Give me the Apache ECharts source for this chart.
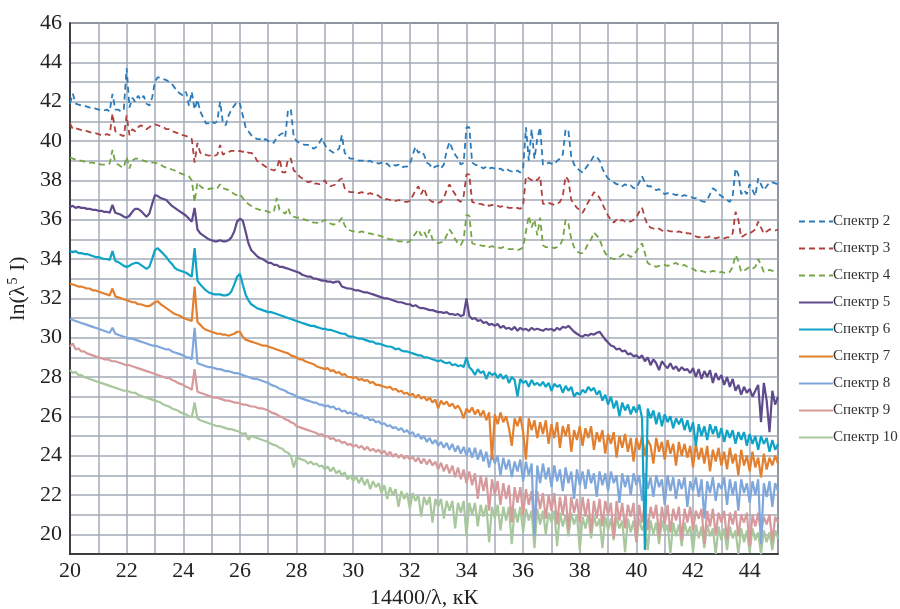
<!DOCTYPE html>
<html lang="ru">
<head>
    <meta charset="utf-8">
    <script src="https://cdn.jsdelivr.net/npm/echarts@6.0.0/dist/echarts.min.js"></script>
    <style>
        html, body { margin: 0; padding: 0; background: #fff; }
        #chart { width: 900px; height: 609px; }
    </style>
</head>
<body>
<div id="chart"></div>
<script type="text/javascript">

// sampling of the spectra: 20.0 .. 45.0 step 0.1
var X_START = 20, X_STEP = 0.1;

var names = ['Спектр 2', 'Спектр 3', 'Спектр 4', 'Спектр 5', 'Спектр 6', 'Спектр 7', 'Спектр 8', 'Спектр 9', 'Спектр 10'];
var colors = ['#2b7bba', '#b0413e', '#76a548', '#5f4b8b', '#0fa3c7', '#e3802f', '#7fa7dc', '#d79a9c', '#a8c79c'];
var dashed = [true, true, true, false, false, false, false, false, false];

var s2 = [
41.9,42.4,41.9,41.85,41.8,41.8,41.75,41.7,41.7,41.65,
41.6,41.6,41.55,41.6,41.5,42.4,41.6,41.6,41.5,41.6,
43.7,41.7,42.2,42.0,42.3,42.1,42.3,41.9,41.8,42.2,
43.0,43.25,43.2,43.15,43.1,43.0,42.9,42.7,42.5,42.4,
42.3,42.5,41.8,42.5,41.6,42.1,41.5,41.2,40.9,40.9,
41.0,40.9,41.0,42.0,40.9,40.8,41.3,41.6,41.8,42.0,
41.9,41.3,40.7,40.5,40.3,40.2,40.1,40.1,40.0,40.1,
40.0,40.0,39.9,40.2,40.3,40.4,40.2,41.6,41.6,40.2,
40.0,39.9,39.85,39.8,39.8,39.75,39.6,39.7,39.9,40.15,
39.8,39.6,39.5,39.4,39.5,39.6,40.3,39.4,39.2,39.1,
39.1,39.05,39.0,39.0,39.0,38.95,39.0,38.9,38.9,38.85,
38.9,38.8,38.85,38.7,38.8,38.75,38.8,38.65,38.7,38.7,
38.8,39.3,39.7,39.4,39.5,39.3,38.9,38.8,38.6,38.7,
38.75,38.6,38.8,39.5,39.95,39.6,39.3,39.1,38.8,38.9,
40.7,40.7,38.9,38.8,38.75,38.7,38.6,38.7,38.6,38.65,
38.6,38.55,38.6,38.5,38.6,38.5,38.45,38.4,38.5,38.4,
38.6,40.7,39.0,40.6,39.1,40.1,40.7,38.8,38.8,38.9,
38.85,38.8,39.0,39.1,39.3,40.6,40.5,39.2,38.8,38.6,
38.5,38.4,38.6,38.8,39.0,39.25,39.2,39.0,38.6,38.3,
38.1,38.0,37.9,37.8,37.8,37.7,37.8,37.7,37.75,37.6,
37.6,37.9,38.2,37.9,37.7,37.7,37.6,37.5,37.55,37.4,
37.3,37.35,37.3,37.3,37.25,37.3,37.2,37.25,37.2,37.2,
37.1,37.1,37.0,36.95,36.9,37.0,37.3,37.6,37.5,37.3,
37.2,37.1,37.0,36.9,37.2,38.6,38.3,37.3,37.5,37.3,
37.8,37.5,37.2,38.1,37.8,37.5,37.7,37.9,37.9,37.85,
37.8
];

var s3 = [
40.9,40.6,40.65,40.6,40.55,40.5,40.5,40.45,40.4,40.4,
40.35,40.3,40.3,40.35,40.3,41.4,40.5,40.4,40.3,40.25,
41.3,40.3,40.6,40.5,40.7,40.8,40.7,40.6,40.7,40.8,
40.85,40.8,40.75,40.7,40.6,40.6,40.5,40.45,40.4,40.3,
40.3,40.25,40.2,40.1,38.9,39.9,39.4,39.3,39.3,39.25,
39.3,39.25,39.3,39.8,39.3,39.4,39.45,39.5,39.5,39.45,
39.5,39.45,39.5,39.4,39.4,39.3,39.0,38.9,38.8,38.7,
38.6,38.55,38.5,38.6,39.1,38.4,38.4,39.1,39.1,38.5,
38.4,38.2,38.1,38.0,37.9,37.95,37.8,37.85,37.8,37.9,
38.0,37.75,37.7,37.75,37.8,38.0,38.1,37.6,37.45,37.4,
37.4,37.4,37.35,37.4,37.35,37.3,37.35,37.3,37.3,37.2,
37.1,37.0,37.05,37.0,37.0,36.95,37.0,36.95,36.9,36.9,
36.95,37.2,37.5,37.7,37.3,37.6,37.2,37.0,36.9,36.9,
36.85,36.9,37.1,37.5,37.8,37.5,37.3,37.0,36.9,37.2,
38.3,38.3,36.9,36.85,36.8,36.8,36.75,36.8,36.7,36.75,
36.7,36.7,36.65,36.7,36.65,36.6,36.6,36.55,36.6,36.55,
36.7,38.2,38.1,38.0,38.1,38.0,38.2,36.8,36.8,36.85,
36.8,36.75,36.8,36.9,37.2,38.2,38.0,37.0,36.8,36.6,
36.5,36.35,36.6,36.9,37.1,37.4,37.3,37.1,36.8,36.5,
36.2,36.0,35.85,36.0,35.9,36.0,35.9,35.95,35.9,36.0,
36.1,36.4,36.6,36.1,35.7,35.6,35.55,35.5,35.55,35.45,
35.4,35.45,35.4,35.4,35.35,35.4,35.35,35.4,35.3,35.3,
35.2,35.15,35.1,35.15,35.1,35.1,35.15,35.1,35.05,35.1,
35.1,35.05,35.1,35.1,35.3,36.4,36.0,35.1,35.2,35.3,
35.3,35.4,35.5,35.9,35.6,35.3,35.4,35.5,35.5,35.45,
35.5
];

var s4 = [
39.15,39.1,39.05,39.0,39.0,38.95,38.95,38.9,38.9,38.85,
38.85,38.8,38.8,38.8,38.85,39.55,38.9,38.8,38.7,38.65,
39.2,38.6,39.0,39.1,39.1,39.05,39.0,38.95,38.9,38.9,
38.9,38.85,38.8,38.7,38.65,38.6,38.55,38.5,38.4,38.35,
38.3,38.25,38.2,38.0,36.9,37.9,37.7,37.6,37.6,37.55,
37.6,37.55,37.6,37.8,37.6,37.55,37.5,37.4,37.3,37.25,
37.3,37.1,36.9,36.8,36.7,36.6,36.55,36.5,36.5,36.45,
36.4,36.35,36.4,37.1,36.5,36.4,36.3,36.6,36.2,36.15,
36.1,36.1,36.05,36.0,35.95,35.9,35.85,35.85,35.8,35.9,
36.0,35.9,35.8,35.75,35.8,35.9,36.1,35.7,35.5,35.45,
35.4,35.4,35.35,35.4,35.35,35.3,35.3,35.25,35.2,35.2,
35.15,35.1,35.05,35.0,35.0,34.95,34.9,34.9,34.85,34.85,
34.9,35.1,35.3,35.5,35.2,35.4,35.1,35.5,35.0,34.9,
34.8,34.85,34.9,35.2,35.5,35.3,35.0,34.8,34.7,35.0,
36.25,36.2,34.8,34.75,34.7,34.7,34.65,34.7,34.6,34.65,
34.6,34.6,34.55,34.6,34.55,34.5,34.5,34.5,34.45,34.5,
34.6,35.4,36.2,35.6,36.0,35.2,36.1,34.7,34.6,34.6,
34.6,34.55,34.6,34.7,35.0,36.0,35.8,35.0,34.6,34.4,
34.3,34.3,34.5,34.8,35.0,35.35,35.2,35.0,34.6,34.3,
34.1,34.05,34.0,34.0,34.1,34.2,34.3,34.2,34.1,34.2,
34.4,34.6,34.8,34.3,33.8,33.7,33.65,33.6,33.65,33.7,
33.7,33.65,33.7,33.75,33.8,33.7,33.65,33.7,33.6,33.55,
33.5,33.4,33.35,33.4,33.35,33.3,33.35,33.4,33.35,33.3,
33.35,33.3,33.3,33.35,33.6,34.2,33.9,33.35,33.4,33.5,
33.6,33.5,33.6,34.0,33.7,33.35,33.4,33.45,33.4,33.4,
33.45
];

var s5 = [
36.65,36.7,36.6,36.65,36.6,36.6,36.55,36.55,36.5,36.5,
36.45,36.45,36.4,36.4,36.35,36.75,36.35,36.3,36.25,36.15,
36.1,36.2,36.4,36.55,36.55,36.45,36.3,36.15,36.3,36.8,
37.25,37.2,37.1,37.05,37.0,36.85,36.7,36.6,36.5,36.4,
36.3,36.2,36.05,35.9,36.6,35.5,35.3,35.2,35.1,35.0,
34.95,34.9,34.9,34.95,34.9,34.9,34.95,35.1,35.4,35.9,
36.05,35.95,35.4,34.8,34.45,34.3,34.15,34.05,34.0,33.9,
33.8,33.8,33.7,33.7,33.6,33.6,33.55,33.5,33.45,33.4,
33.35,33.3,33.2,33.15,33.1,33.1,33.0,33.0,32.95,32.9,
32.9,32.85,32.85,32.8,32.85,32.85,32.6,32.55,32.5,32.5,
32.45,32.4,32.4,32.35,32.3,32.3,32.25,32.2,32.15,32.1,
32.05,32.0,32.0,31.95,31.9,31.85,31.8,31.8,31.75,31.7,
31.7,31.6,31.65,31.55,31.5,31.5,31.45,31.4,31.4,31.35,
31.3,31.3,31.25,31.3,31.2,31.2,31.15,31.2,31.1,31.15,
32.0,31.1,30.95,31.0,30.85,30.9,30.75,30.8,30.65,30.7,
30.6,30.7,30.5,30.6,30.45,30.5,30.4,30.55,30.35,30.5,
30.4,30.45,30.35,30.5,30.4,30.45,30.4,30.35,30.45,30.4,
30.45,30.35,30.5,30.4,30.55,30.5,30.6,30.45,30.3,30.2,
30.1,30.05,30.15,30.1,30.2,30.15,30.25,30.3,30.1,29.9,
29.75,29.6,29.55,29.4,29.45,29.3,29.35,29.15,29.2,29.05,
29.1,28.95,29.1,28.8,29.0,28.6,28.9,28.7,28.35,28.8,
28.6,28.45,28.7,28.4,28.55,28.3,28.5,28.35,28.4,28.2,
28.45,28.0,28.4,27.9,28.3,28.0,28.35,27.7,28.2,27.85,
28.1,27.6,28.0,27.5,27.9,27.3,27.6,27.1,27.5,27.2,
27.4,27.0,27.3,27.6,25.7,27.7,26.8,25.2,27.3,26.6,
27.0
];

var s6 = [
34.4,34.35,34.4,34.3,34.3,34.25,34.25,34.2,34.15,34.1,
34.1,34.05,34.0,34.0,33.95,34.4,33.9,33.85,33.75,33.65,
33.6,33.65,33.75,33.8,33.8,33.7,33.6,33.5,33.6,34.0,
34.45,34.55,34.4,34.25,34.1,33.9,33.75,33.55,33.45,33.4,
33.35,33.3,33.2,33.1,34.55,32.9,32.7,32.55,32.4,32.3,
32.25,32.2,32.2,32.2,32.15,32.15,32.2,32.35,32.7,33.1,
33.25,32.7,32.2,31.9,31.7,31.6,31.5,31.45,31.4,31.35,
31.3,31.3,31.25,31.2,31.15,31.1,31.05,31.0,30.95,30.9,
30.85,30.8,30.75,30.7,30.65,30.6,30.6,30.55,30.5,30.45,
30.45,30.4,30.4,30.35,30.3,30.25,30.2,30.2,30.1,30.05,
30.05,30.0,29.95,29.95,29.9,29.85,29.8,29.8,29.7,29.7,
29.65,29.6,29.55,29.55,29.5,29.4,29.45,29.35,29.3,29.3,
29.25,29.2,29.15,29.1,29.1,29.0,29.0,28.95,28.9,28.85,
28.8,28.85,28.75,28.7,28.75,28.6,28.65,28.55,28.6,28.5,
29.0,28.5,28.35,28.1,28.4,28.2,28.3,27.9,28.25,28.1,
28.2,27.95,28.15,27.9,28.1,27.7,28.0,27.85,27.0,27.9,
27.7,27.8,27.5,27.85,27.6,27.7,27.55,27.75,27.5,27.7,
27.3,27.65,27.5,27.6,27.2,27.55,27.3,27.5,27.0,27.2,
27.1,27.35,27.2,27.5,27.3,27.45,27.1,27.3,26.8,27.1,
26.6,27.0,26.4,26.8,26.0,26.7,26.3,26.6,26.1,26.5,
26.2,26.6,25.9,19.2,26.4,25.9,26.3,25.6,26.2,25.5,
26.1,25.7,26.0,25.4,25.9,25.6,25.9,25.3,25.8,25.2,
25.7,24.5,25.6,25.0,25.5,24.8,25.6,25.1,25.5,24.9,
25.4,24.7,25.3,24.9,25.3,24.6,25.2,24.8,25.2,24.5,
25.1,24.6,25.0,24.3,25.0,24.6,24.9,24.2,24.8,24.3,
24.6
];

var s7 = [
32.75,32.7,32.65,32.6,32.6,32.55,32.5,32.5,32.4,32.4,
32.35,32.3,32.25,32.2,32.15,32.5,32.1,32.05,32.0,31.95,
31.9,31.85,31.8,31.8,31.7,31.7,31.65,31.6,31.6,31.7,
31.8,31.85,31.7,31.6,31.5,31.4,31.3,31.2,31.15,31.1,
31.0,30.95,30.9,30.85,32.6,30.8,30.65,30.5,30.4,30.35,
30.3,30.25,30.2,30.2,30.15,30.15,30.1,30.15,30.2,30.3,
30.3,30.05,29.9,29.85,29.8,29.75,29.7,29.65,29.6,29.6,
29.55,29.5,29.45,29.4,29.35,29.3,29.25,29.2,29.1,29.05,
29.0,28.9,28.9,28.8,28.75,28.7,28.65,28.55,28.5,28.45,
28.4,28.45,28.3,28.35,28.2,28.25,28.1,28.15,28.0,28.0,
27.95,28.0,27.85,27.9,27.8,27.85,27.7,27.75,27.6,27.6,
27.55,27.5,27.45,27.5,27.35,27.4,27.25,27.3,27.15,27.2,
27.05,27.15,26.95,27.1,26.9,27.0,26.8,26.95,26.7,26.85,
26.4,26.8,26.6,26.75,26.5,26.65,26.4,26.55,26.3,25.9,
26.4,26.2,26.45,26.1,26.35,26.0,26.3,25.8,26.2,23.8,
26.1,25.6,26.2,25.7,26.0,25.4,24.5,25.9,25.5,26.0,
25.2,23.8,25.9,25.3,25.8,24.9,25.7,25.1,25.8,24.6,
25.6,24.9,25.7,24.4,25.5,25.0,25.6,24.2,25.3,24.8,
25.5,24.5,25.4,24.9,25.5,24.3,25.2,24.7,25.3,24.1,
25.1,24.6,25.2,23.9,25.0,24.4,25.1,24.2,24.9,23.7,
24.9,24.3,25.0,24.0,24.8,24.5,23.6,24.9,24.2,24.7,
23.8,24.8,24.1,24.6,23.5,24.7,24.0,24.6,23.9,24.5,
23.4,24.6,23.8,24.4,23.6,24.5,23.2,24.3,23.7,24.4,
23.5,24.2,23.3,24.4,23.6,24.1,23.0,24.3,23.5,24.0,
23.2,24.2,23.4,23.9,22.9,24.1,23.3,23.9,23.5,24.0,
23.6
];

var s8 = [
30.95,30.9,30.85,30.8,30.75,30.7,30.65,30.6,30.55,30.5,
30.45,30.4,30.35,30.3,30.25,30.5,30.2,30.15,30.1,30.05,
30.0,29.95,29.95,29.9,29.85,29.8,29.75,29.7,29.65,29.6,
29.6,29.55,29.5,29.45,29.4,29.4,29.3,29.25,29.2,29.15,
29.1,29.0,29.0,28.9,30.5,28.7,28.65,28.6,28.55,28.5,
28.5,28.45,28.4,28.4,28.35,28.3,28.3,28.25,28.2,28.2,
28.15,28.1,28.05,28.0,27.95,27.9,27.9,27.85,27.8,27.75,
27.7,27.6,27.55,27.5,27.4,27.35,27.3,27.2,27.15,27.1,
27.0,26.95,26.9,26.85,26.8,26.75,26.7,26.7,26.6,26.6,
26.5,26.55,26.45,26.5,26.35,26.4,26.25,26.3,26.15,26.2,
26.1,26.15,26.0,26.05,25.9,25.95,25.8,25.85,25.7,25.75,
25.6,25.65,25.5,25.55,25.4,25.45,25.3,25.4,25.2,25.3,
25.1,25.2,24.95,25.1,24.85,25.0,24.7,24.9,24.6,24.8,
24.5,24.7,24.4,24.65,24.3,24.6,24.2,24.5,24.1,24.45,
24.0,24.4,23.9,24.4,23.8,24.3,23.7,24.2,23.4,24.1,
23.6,24.0,23.0,23.9,23.3,23.8,22.9,23.7,23.2,23.8,
22.7,23.7,23.0,23.6,19.9,23.5,22.6,23.6,22.8,23.4,
22.4,23.5,22.7,23.3,22.2,23.4,22.6,23.2,21.8,23.3,
22.5,23.2,22.3,23.3,22.6,23.1,21.9,23.2,22.5,23.1,
22.2,23.2,22.6,23.0,21.6,23.1,22.4,23.0,22.0,23.1,
22.5,23.0,21.7,23.1,22.3,22.9,21.9,23.0,22.4,22.8,
21.5,23.0,22.2,22.9,21.8,22.8,22.3,22.9,21.4,22.7,
22.2,22.9,21.9,22.8,20.8,22.7,22.1,22.9,21.7,22.6,
22.3,22.9,21.5,22.8,22.0,22.7,21.2,22.8,22.1,22.6,
21.6,22.7,22.0,22.8,19.5,22.6,21.9,22.7,21.4,22.6,
22.2
];

var s9 = [
29.55,29.7,29.4,29.45,29.3,29.3,29.2,29.15,29.1,29.05,
29.0,28.95,28.9,28.9,28.85,28.8,28.8,28.75,28.7,28.65,
28.6,28.6,28.55,28.5,28.45,28.4,28.35,28.3,28.25,28.2,
28.15,28.1,28.05,28.0,27.95,27.95,27.85,27.8,27.7,27.65,
27.6,27.5,27.45,27.35,28.4,27.25,27.2,27.15,27.1,27.05,
27.0,26.95,26.95,26.9,26.85,26.8,26.8,26.75,26.7,26.7,
26.65,26.6,26.6,26.55,26.5,26.5,26.45,26.4,26.4,26.35,
26.3,26.2,26.15,26.1,26.0,25.95,25.85,25.8,25.7,25.65,
25.5,25.45,25.4,25.35,25.3,25.25,25.2,25.15,25.05,25.1,
24.95,25.0,24.85,24.9,24.75,24.8,24.65,24.7,24.55,24.6,
24.45,24.55,24.4,24.5,24.3,24.45,24.25,24.35,24.2,24.3,
24.1,24.25,24.0,24.2,23.95,24.1,23.9,24.05,23.85,24.0,
23.8,23.95,23.7,23.9,23.6,23.85,23.55,23.8,23.5,23.7,
23.3,23.65,23.2,23.55,23.1,23.5,22.9,23.4,22.8,23.3,
22.6,23.2,22.5,23.1,21.8,23.0,22.2,22.9,21.2,22.8,
22.0,22.7,21.5,22.6,21.8,22.5,20.6,22.4,21.6,22.4,
21.0,22.3,21.5,22.2,20.3,22.2,21.3,22.1,20.8,22.0,
21.2,22.1,20.5,21.9,21.0,22.0,20.2,21.9,21.1,21.8,
20.6,21.9,20.9,21.8,20.1,21.7,20.8,21.8,20.4,21.7,
21.0,21.6,19.8,21.7,20.7,21.6,20.3,21.5,20.9,21.6,
19.6,21.5,20.6,21.6,20.2,21.4,20.8,21.5,19.9,21.4,
20.5,21.5,20.1,21.3,20.7,21.4,19.7,21.3,20.6,21.4,
20.2,21.2,20.8,21.3,19.5,21.2,20.4,21.3,20.0,21.1,
20.6,21.2,19.7,21.1,20.5,21.2,19.9,21.0,20.6,21.1,
19.4,21.0,20.4,21.1,20.0,20.9,20.5,21.0,19.6,20.9,
20.6
];

var s10 = [
28.35,28.2,28.25,28.1,28.1,28.0,27.95,27.9,27.85,27.8,
27.75,27.7,27.65,27.6,27.55,27.5,27.45,27.4,27.35,27.3,
27.3,27.25,27.2,27.2,27.1,27.05,27.0,26.95,26.9,26.85,
26.8,26.75,26.7,26.6,26.55,26.5,26.4,26.35,26.3,26.2,
26.15,26.1,26.0,25.95,26.7,25.9,25.8,25.75,25.7,25.65,
25.6,25.55,25.5,25.5,25.45,25.4,25.35,25.35,25.3,25.25,
25.2,25.1,25.15,24.8,25.0,24.95,24.9,24.85,24.8,24.75,
24.7,24.6,24.55,24.5,24.4,24.35,24.2,24.15,24.0,23.4,
23.9,23.85,23.8,23.75,23.6,23.7,23.55,23.6,23.45,23.5,
23.3,23.45,23.2,23.4,23.1,23.25,23.0,23.15,22.8,23.0,
22.7,22.95,22.6,22.9,22.5,22.8,22.3,22.7,22.4,22.6,
22.1,22.5,21.8,22.4,22.0,22.3,21.4,22.2,21.8,22.1,
21.3,22.1,21.7,22.0,20.9,21.9,21.5,21.9,20.6,21.8,
21.4,21.8,20.8,21.7,21.2,21.7,20.3,21.6,21.1,21.7,
19.9,21.6,21.0,21.6,20.4,21.5,20.9,21.5,19.6,21.4,
20.8,21.5,20.2,21.4,20.7,21.4,19.5,21.3,20.6,21.4,
20.1,21.3,20.7,21.2,19.3,21.3,20.5,21.2,20.0,21.1,
20.6,21.2,19.4,21.1,20.4,21.0,19.9,21.1,20.5,21.0,
19.2,20.9,20.3,21.0,19.8,20.9,20.4,20.8,19.3,20.9,
20.2,20.8,19.7,20.9,20.3,20.7,19.1,20.8,20.1,20.7,
19.6,20.8,20.2,20.6,19.2,20.7,20.0,20.6,19.5,20.7,
20.1,20.5,19.0,20.6,19.9,20.5,19.4,20.6,20.0,20.4,
19.1,20.5,19.8,20.4,19.3,20.5,19.9,20.3,19.0,20.4,
19.7,20.3,19.2,20.4,19.8,20.2,19.0,20.3,19.6,20.2,
19.1,20.3,19.7,20.1,19.0,20.2,19.6,20.1,19.2,20.2,
19.8
];

var spectra = [s2, s3, s4, s5, s6, s7, s8, s9, s10];

function toPairs(ys) {
    return ys.map(function (y, i) {
        return [+(X_START + i * X_STEP).toFixed(1), y];
    });
}

var serif = 'Liberation Serif, Times New Roman, serif';

var series = spectra.map(function (ys, k) {
    return {
        name: names[k],
        type: 'line',
        data: toPairs(ys),
        symbol: 'none',
        clip: true,
        z: 20 - k,
        lineStyle: {
            color: colors[k],
            width: dashed[k] ? 1.8 : 2.2,
            type: dashed[k] ? [6, 4] : 'solid'
        },
        itemStyle: { color: colors[k] }
    };
});

var chart = echarts.init(document.getElementById('chart'));
chart.setOption({
    animation: false,
    grid: {
        left: 70, top: 23, right: 122, bottom: 55,
        containLabel: false,
        outerBoundsMode: 'none',
        show: true, borderColor: '#222', borderWidth: 1.5
    },
    legend: {
        orient: 'vertical',
        left: 793,
        top: 209,
        itemWidth: 34,
        itemHeight: 14,
        itemGap: 12,
        itemStyle: { opacity: 0, borderWidth: 0 },
        textStyle: { fontFamily: serif, fontSize: 15, color: '#333', padding: [0, 0, 0, -5] },
        data: names
    },
    xAxis: {
        type: 'value',
        min: 20, max: 45, interval: 1,
        name: '14400/λ, кК',
        nameLocation: 'middle',
        nameGap: 33,
        nameTextStyle: { fontFamily: serif, fontSize: 22, color: '#222' },
        axisLine: { show: true, lineStyle: { color: '#222', width: 1.5 } },
        axisTick: { show: false },
        axisLabel: {
            fontFamily: serif, fontSize: 22, color: '#222', margin: 6,
            formatter: function (v) { return (v % 2 === 0 && v < 45) ? v : ''; }
        },
        splitLine: { show: true, lineStyle: { color: '#a3abb7', width: 1.5 } }
    },
    yAxis: {
        type: 'value',
        min: 19, max: 46, interval: 1,
        name: '{a|ln(λ}{s|5}{a| I)}',
        nameLocation: 'middle',
        nameGap: 26,
        nameTextStyle: {
            fontFamily: serif, fontSize: 22, color: '#222',
            rich: {
                a: { fontFamily: serif, fontSize: 22, color: '#222' },
                s: { fontFamily: serif, fontSize: 14, color: '#222', padding: [0, 1, 10, 1] }
            }
        },
        axisLine: { show: true, lineStyle: { color: '#222', width: 1.5 } },
        axisTick: { show: false },
        axisLabel: {
            fontFamily: serif, fontSize: 22, color: '#222', margin: 8,
            formatter: function (v) { return v % 2 === 0 ? v : ''; }
        },
        splitLine: { show: true, lineStyle: { color: '#a3abb7', width: 1.5 } }
    },
    series: series
});
</script>
</body>
</html>
